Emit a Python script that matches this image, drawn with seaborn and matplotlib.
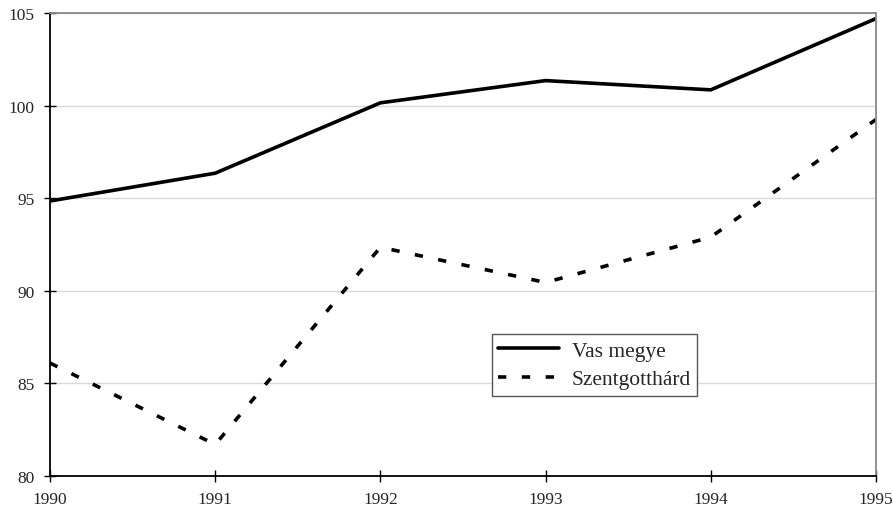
import pandas as pd
import matplotlib
matplotlib.use('Agg')
import matplotlib.pyplot as plt
import seaborn as sns

years = [1990, 1991, 1992, 1993, 1994, 1995]
vas_megye = [94.85, 96.35, 100.15, 101.35, 100.85, 104.7]
szentgotthard = [86.1, 81.7, 92.35, 90.45, 92.9, 99.25]
series_names = ['Vas megye', 'Szentgotthárd']

df = pd.DataFrame({
    'year': years * 2,
    'value': vas_megye + szentgotthard,
    'series': [series_names[0]] * len(years) + [series_names[1]] * len(years),
})

sns.set_style('white')
plt.rcParams['font.family'] = ['Liberation Serif', 'DejaVu Serif']

fig = plt.figure(figsize=(8.93, 5.10), dpi=100)
ax = fig.add_axes([50 / 893, 1 - 477 / 510, 826 / 893, 463 / 510])

sns.lineplot(data=df, x='year', y='value', style='series', color='black',
             dashes={series_names[0]: '', series_names[1]: (2.3, 4.3)},
             linewidth=2.6, ax=ax)

ax.set_xlim(1990, 1995)
ax.set_ylim(80, 105)
ax.set_xticks(years)
ax.set_yticks([80, 85, 90, 95, 100, 105])
ax.set_xlabel('')
ax.set_ylabel('')
ax.yaxis.grid(True, color='#d9d9d9', linewidth=1)
ax.set_axisbelow(True)

for side in ['left', 'bottom']:
    ax.spines[side].set_color('black')
    ax.spines[side].set_linewidth(1.3)
for side in ['top', 'right']:
    ax.spines[side].set_visible(True)
    ax.spines[side].set_color('#888888')
    ax.spines[side].set_linewidth(1.3)

ax.tick_params(axis='both', direction='inout', length=8, width=1, color='black',
               labelsize=12.5, left=True, bottom=True)
ax.tick_params(axis='y', pad=7)
ax.tick_params(axis='x', pad=7)

leg = ax.legend(loc='lower left', bbox_to_anchor=(0.535, 0.173), borderaxespad=0,
                fancybox=False, edgecolor='#555555', framealpha=1, fontsize=15.5,
                handlelength=2.8, handletextpad=0.6, borderpad=0.3, labelspacing=0.4)
leg.get_frame().set_linewidth(1)

fig.savefig('out.png', dpi=100)
